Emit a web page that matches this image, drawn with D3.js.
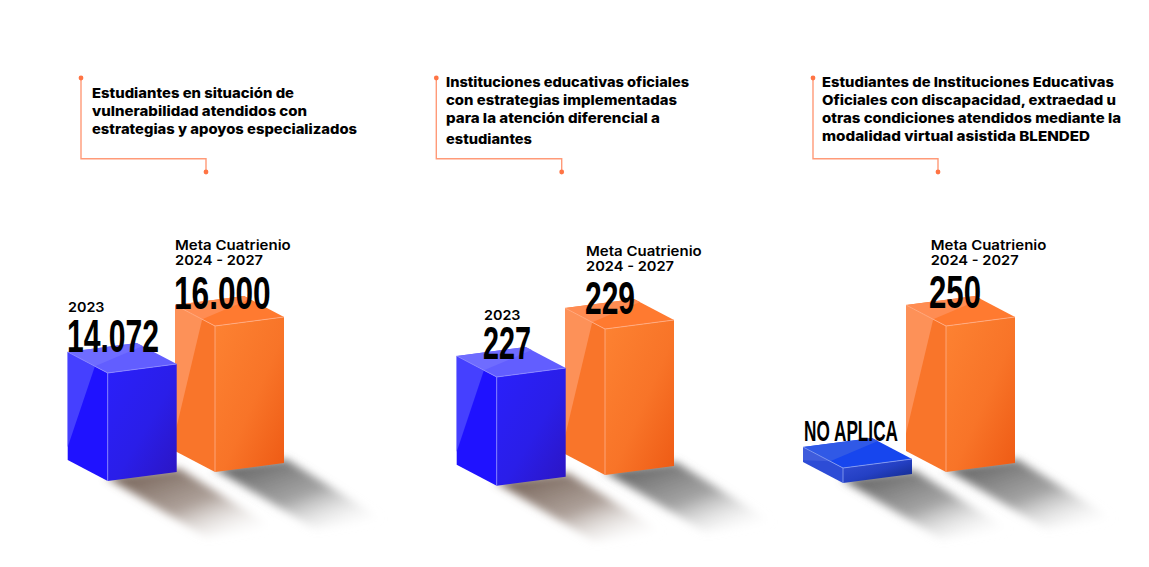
<!DOCTYPE html>
<html><head><meta charset="utf-8">
<script src="https://cdn.jsdelivr.net/npm/d3@7"></script>
<style>html,body{margin:0;padding:0;background:#fff;overflow:hidden}svg{display:block}</style>
</head><body><svg id="c" width="1149" height="567"></svg>
<script>
// ---- data ----
const panelTitles = [
  ["Estudiantes en situación de","vulnerabilidad atendidos con","estrategias y apoyos especializados"],
  ["Instituciones educativas oficiales","con estrategias implementadas","para la atención diferencial a","estudiantes"],
  ["Estudiantes de Instituciones Educativas","Oficiales con discapacidad, extraedad u","otras condiciones atendidos mediante la","modalidad virtual asistida BLENDED"]
];
const baselineLabel = "2023";
const targetLabel = ["Meta Cuatrienio","2024 - 2027"];
const noValueLabel = "NO APLICA";
const baselineValues = [14072, 227, null];
const targetValues = [16000, 229, 250];
const axisFloor = [8592, 221.17, 0];

// ---- layout ----
const titleX = [92, 446, 822];
const titleBase = [[98.3,116,134],[87.3,105,123,144],[87,105,123,141]];
const titleEnd = [[294,307,357],[689,677,660,532],[1114,1116,1121,1090]];
const connX = [[81,206],[436.3,561.7],[813,938]];
const blueFrontX = [107.7,496.7,843], blueBottom=[481,485.7,483];
const orangeFrontX = [215,605,946], orangeBottom=[472,475,472];
const metaX = [175,586,930.7], metaBase=[[250,265],[256,270.7],[250,265]];
const yearX = [68,484], yearBase=[312,320];
const blueNum = [{x0:67,x1:159,y:351.7},{x0:483,x1:531,y:359},{x0:804,x1:898,y:441}];
const orangeNum = [{x0:174,x1:270.7,y:308.7},{x0:585,x1:635,y:314},{x0:929,x1:981,y:308}];
const dxL=40, dyL=21, dxR=69, dyR=-9, maxH=146;

const svg = d3.select("#c");
const defs = svg.append("defs");
const fmt = d3.formatLocale({thousands:".",decimal:",",grouping:[3],currency:["",""]}).format(",d");

function lin(id,x1,y1,x2,y2,stops){
  const g=defs.append("linearGradient").attr("id",id).attr("x1",x1).attr("y1",y1).attr("x2",x2).attr("y2",y2);
  stops.forEach(s=>g.append("stop").attr("offset",s[0]).attr("stop-color",s[1]).attr("stop-opacity",s[2]===undefined?1:s[2]));
}
defs.append("filter").attr("id","blur").attr("x","-30%").attr("y","-30%").attr("width","160%").attr("height","160%")
  .append("feGaussianBlur").attr("stdDeviation",4);
lin("fO",0,0,1,1,[[0,"#fd8232"],[.55,"#f87428"],[1,"#ee5a14"]]);
lin("fB",0,0,1,1,[[0,"#2a20fb"],[.55,"#2a1ee8"],[1,"#2c15c2"]]);
lin("fN",0,0,1,1,[[0,"#3550d8"],[.5,"#2440c4"],[1,"#10257f"]]);
lin("sGrey",.1,.05,.95,.95,[[0,"#606060",1],[.5,"#8c8c8c",.8],[1,"#ffffff",0]]);
lin("sBrown",.1,.05,.95,.95,[[0,"#6a564a",.95],[.5,"#998980",.8],[1,"#ffffff",0]]);

const palettes = {
  orange:{left:"#f9752a",hi:"#fd9158",top:"#ff7a30",topHi:"#ff8c52",front:"url(#fO)",edge:"#ffb08a"},
  blue:{left:"#1f12ff",hi:"#4540ff",top:"#625eff",topHi:"#6f6cff",front:"url(#fB)",edge:"#8f8cff"},
  flat:{left:"#2d4cd6",hi:"#3f5cdc",top:"#1746ee",topHi:"#3059e6",front:"url(#fN)",edge:"#8ea2f0"}
};
const pts = a => a.map(p=>p.join(",")).join(" ");

function shadow(g,fx,by,grad,vx,vy){
  g.append("polygon").attr("filter","url(#blur)").attr("fill",`url(#${grad})`)
   .attr("points",pts([[fx-2,by-4],[fx+dxR+2,by+dyR-4],[fx+dxR+vx,by+dyR+vy],[fx+vx,by+vy]]));
}
function box(g,fx,by,h,p){
  const ty=by-h;
  const L=[fx-dxL,ty-dyL],F=[fx,ty],R=[fx+dxR,ty+dyR],B=[fx+dxR-dxL,ty+dyR-dyL];
  const Lb=[fx-dxL,by-dyL],Fb=[fx,by],Rb=[fx+dxR,by+dyR];
  const m=[L[0]+dxL*.68,L[1]+dyL*.68];
  g.append("polygon").attr("points",pts([L,F,Fb,Lb])).attr("fill",p.left);
  g.append("polygon").attr("points",pts([L,m,[L[0],L[1]+h*.88]])).attr("fill",p.hi);
  g.append("polygon").attr("points",pts([F,R,Rb,Fb])).attr("fill",p.front);
  g.append("polygon").attr("points",pts([L,F,R,B])).attr("fill",p.top);
  g.append("polygon").attr("points",pts([L,m,[B[0]+6,B[1]+3],B])).attr("fill",p.topHi);
  g.append("polyline").attr("points",pts([L,F,R])).attr("fill","none").attr("stroke",p.edge).attr("stroke-width",.8);
  g.append("line").attr("x1",F[0]).attr("y1",F[1]).attr("x2",Fb[0]).attr("y2",Fb[1]).attr("stroke",p.edge).attr("stroke-width",.8);
}
function fitted(g,t,x0,x1,y,cls){
  return g.append("text").attr("class",cls).attr("x",x0).attr("y",y)
    .attr("textLength",x1-x0).attr("lengthAdjust","spacingAndGlyphs").text(t);
}
function styleNum(sel,size){ sel.attr("font-family","'Liberation Sans Narrow','Liberation Sans',sans-serif").attr("font-weight",700).attr("font-size",size).attr("fill","#000"); }
const bodyFont = "Inter,'Open Sans',sans-serif";

panelTitles.forEach((lines,i)=>{
  const g=svg.append("g");
  const [cx0,cx1]=connX[i];
  g.append("path").attr("d",`M${cx0},78V158.7H${cx1}V172`).attr("fill","none").attr("stroke","#ff9a78").attr("stroke-width",1.4);
  [[cx0,78],[cx1,172]].forEach(c=>g.append("circle").attr("cx",c[0]).attr("cy",c[1]).attr("r",2.4).attr("fill","#ff7444"));
  lines.forEach((t,j)=>fitted(g,t,titleX[i],titleEnd[i][j],titleBase[i][j],"t")
     .attr("font-family",bodyFont).attr("font-weight",800).attr("font-size",13.5).attr("fill","#000"));

  const yH=d3.scaleLinear().domain([axisFloor[i],targetValues[i]]).range([i===2?15:0,maxH]);
  const bv=baselineValues[i];
  const bh=yH(bv===null?0:bv);
  shadow(g,orangeFrontX[i],orangeBottom[i],"sGrey",100,57);
  shadow(g,blueFrontX[i],blueBottom[i],bv===null?"sGrey":"sBrown",98,56);
  box(g,orangeFrontX[i],orangeBottom[i],yH(targetValues[i]),palettes.orange);
  box(g,blueFrontX[i],blueBottom[i],bh,bv===null?palettes.flat:palettes.blue);

  // labels
  const mEnd=[metaX[i]+115.7,metaX[i]+88];
  targetLabel.forEach((t,j)=>fitted(g,t,metaX[i],mEnd[j],metaBase[i][j],"m")
     .attr("font-family",bodyFont).attr("font-weight",600).attr("font-size",13.5).attr("fill","#000"));
  const on=orangeNum[i];
  styleNum(fitted(g,fmt(targetValues[i]),on.x0,on.x1,on.y,"n"),46);
  const bn=blueNum[i];
  if(bv===null){
    styleNum(fitted(g,noValueLabel,bn.x0,bn.x1,bn.y,"n"),30);
  }else{
    fitted(g,baselineLabel,yearX[i],yearX[i]+36.5,yearBase[i],"m")
      .attr("font-family",bodyFont).attr("font-weight",600).attr("font-size",13.5).attr("fill","#000");
    styleNum(fitted(g,fmt(bv),bn.x0,bn.x1,bn.y,"n"),46);
  }
});
</script></body></html>
